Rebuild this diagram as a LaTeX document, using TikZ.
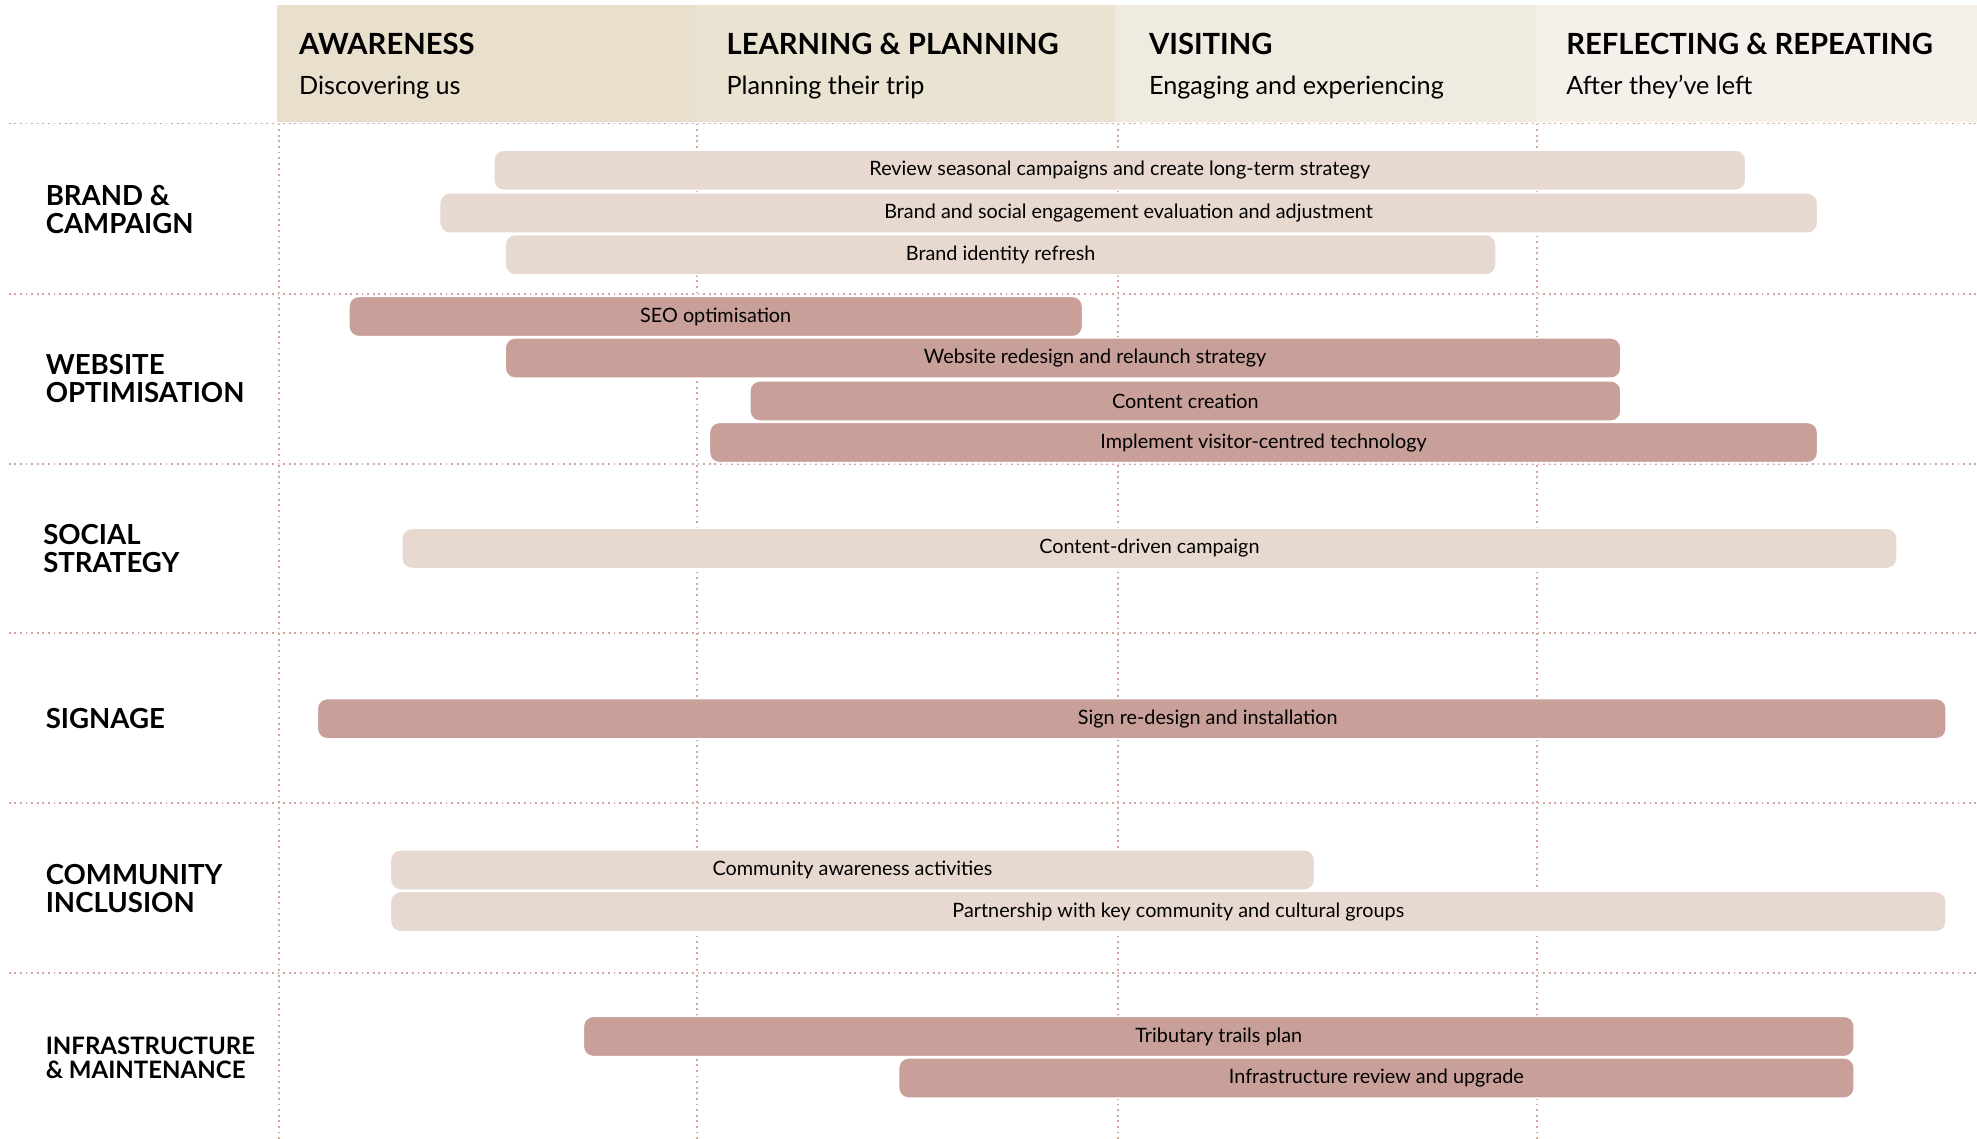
\documentclass[tikz,border=0pt]{standalone}
\usepackage{fontspec}
\setmainfont{Lato}
\definecolor{phaseA}{HTML}{E8E0CC}
\definecolor{phaseB}{HTML}{EAE3D2}
\definecolor{phaseC}{HTML}{F0EBE0}
\definecolor{phaseD}{HTML}{F5F1EA}
\definecolor{barlight}{HTML}{E8D9D0}
\definecolor{bardark}{HTML}{C8A099}
\definecolor{gridrose}{HTML}{D2A59D}
\begin{document}
\begin{tikzpicture}[x=0.6304pt,y=-0.6304pt,
	barbase/.style={draw=white,line width=0.8pt,rounded corners=5pt,minimum height=20.2pt,inner sep=0pt,anchor=west,font=\fontsize{9.9}{11}\selectfont},
	lightbar/.style={barbase,fill=barlight},
	darkbar/.style={barbase,fill=bardark},
	barlen/.style={minimum width=#1*0.6304pt},
	bartext/.style={inner sep=0pt,font=\fontsize{9.9}{11}\selectfont},
	gridline/.style={draw=gridrose,line width=0.9pt,dash pattern=on 0.9pt off 1.9pt},
	rowlabel/.style={anchor=west,align=left,inner sep=0pt,font=\bfseries\fontsize{13.8}{13.9}\selectfont},
	phasetitle/.style={anchor=base west,inner sep=0pt,font=\bfseries\fontsize{14.6}{16}\selectfont},
	phasesub/.style={anchor=base west,inner sep=0pt,font=\fontsize{12.6}{14}\selectfont}]
		\useasboundingbox (0,0) rectangle (1568,903);

		% phase header band
		\fill[phaseA] (220,4) rectangle (553,97);
		\fill[phaseB] (553,4) rectangle (884,97);
		\fill[phaseC] (884,4) rectangle (1218,97);
		\fill[phaseD] (1218,4) rectangle (1568,97);
		\node[phasetitle] (awaretitle) at (237,43) {AWARENESS};
		\node[phasesub] (awaresub) at (237,75) {Discovering us};
		\node[phasetitle] (learntitle) at (576,43) {LEARNING \& PLANNING};
		\node[phasesub] (learnsub) at (576,75) {Planning their trip};
		\node[phasetitle] (visittitle) at (911,43) {VISITING};
		\node[phasesub] (visitsub) at (911,75) {Engaging and experiencing};
		\node[phasetitle] (reflecttitle) at (1242,43) {REFLECTING \& REPEATING};
		\node[phasesub] (reflectsub) at (1242,75) {After they’ve left};

		% dotted grid
		\draw[gridline] (7,98) -- (1568,98);
		\draw[gridline] (7,233) -- (1568,233);
		\draw[gridline] (7,368) -- (1568,368);
		\draw[gridline] (7,502) -- (1568,502);
		\draw[gridline] (7,637) -- (1568,637);
		\draw[gridline] (7,772) -- (1568,772);
		\draw[gridline] (221,98) -- (221,903);
		\draw[gridline] (553,98) -- (553,903);
		\draw[gridline] (887,98) -- (887,903);
		\draw[gridline] (1219,98) -- (1219,903);

		% row labels
		\node[rowlabel] (brand) at (36,166) {BRAND \&\\CAMPAIGN};
		\node[rowlabel] (website) at (36,300) {WEBSITE\\OPTIMISATION};
		\node[rowlabel] (social) at (34,435) {SOCIAL\\STRATEGY};
		\node[rowlabel] (signage) at (36,570) {SIGNAGE};
		\node[rowlabel] (community) at (36,705) {COMMUNITY\\INCLUSION};
		\node[rowlabel,font=\bfseries\fontsize{12}{12.2}\selectfont] (infrastructure) at (36,839) {INFRASTRUCTURE\\\& MAINTENANCE};

		% brand and campaign bars
		\node[lightbar,barlen=993] (review) at (391,135) {Review seasonal campaigns and create long-term strategy};
		\node[lightbar,barlen=1093] (evaluation) at (348,169) {Brand and social engagement evaluation and adjustment};
		\node[lightbar,barlen=786] (identity) at (400,202) {Brand identity refresh};

		% website bars
		\node[darkbar,barlen=582] (seo) at (276,251) {SEO optimisation};
		\node[darkbar,barlen=885] (redesign) at (400,284) {};
		\node[bartext] (redesigntext) at ([xshift=16pt]redesign.center) {Website redesign and relaunch strategy};
		\node[darkbar,barlen=691] (content) at (594,318) {Content creation};
		\node[darkbar,barlen=879] (technology) at (562,351) {Implement visitor-centred technology};

		% social bar
		\node[lightbar,barlen=1186] (campaign) at (318,435) {Content-driven campaign};

		% signage bar
		\node[darkbar,barlen=1292] (signs) at (251,570) {};
		\node[bartext] (signstext) at ([xshift=38pt]signs.center) {Sign re-design and installation};

		% community bars
		\node[lightbar,barlen=733] (activities) at (309,690) {Community awareness activities};
		\node[lightbar,barlen=1234] (partnership) at (309,723) {};
		\node[bartext] (partnershiptext) at ([xshift=5pt]partnership.center) {Partnership with key community and cultural groups};

		% infrastructure bars
		\node[darkbar,barlen=1008] (trails) at (462,822) {Tributary trails plan};
		\node[darkbar,barlen=758] (upgrade) at (712,855) {Infrastructure review and upgrade};
	\end{tikzpicture}
\end{document}
